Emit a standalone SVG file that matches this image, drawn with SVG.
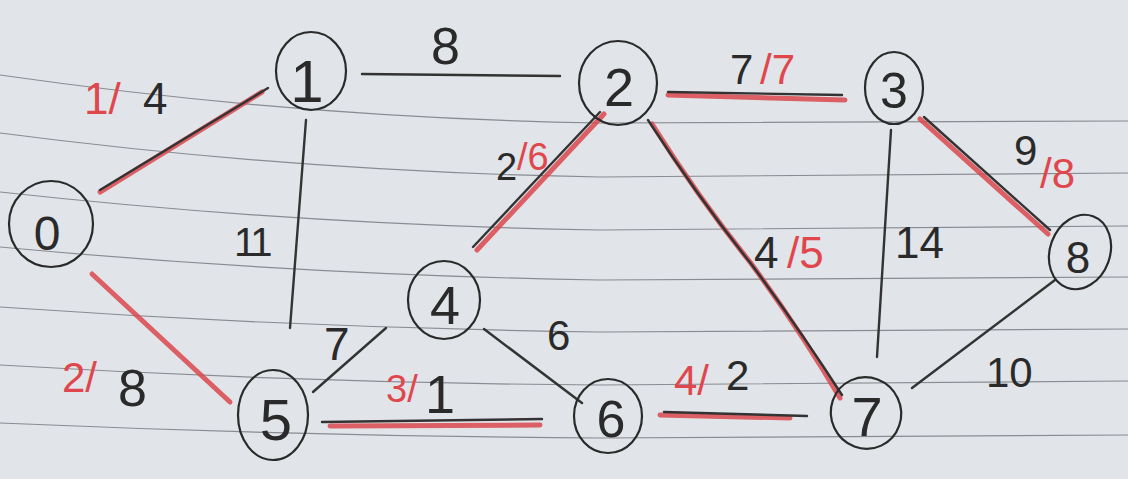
<svg xmlns="http://www.w3.org/2000/svg" width="1128" height="479" viewBox="0 0 1128 479">
<style>
.rule{fill:none;stroke:#6b6f76;stroke-width:1.2;opacity:.75}
.node{fill:none;stroke:#2a2a2a;stroke-width:2.2}
.nl{font-family:"Liberation Sans",Arial,sans-serif;fill:#2a2a2a;text-anchor:middle}
.blk{fill:none;stroke:#333;stroke-width:2.4;stroke-linecap:round}
.red{fill:none;stroke:#d9484c;stroke-width:5;stroke-linecap:round;opacity:.85}
.el{font-family:"Liberation Sans",Arial,sans-serif;fill:#2a2a2a}
.r{fill:#e0474d}
</style>
<rect x="0" y="0" width="1128" height="479" fill="#e1e4e8"/>
<g id="paper">
<path class="rule" d="M0,75 Q300,118 600,123 L1128,121"/>
<path class="rule" d="M0,133 Q300,172 600,177 L1128,173"/>
<path class="rule" d="M0,192 Q300,225 600,230 L1128,226"/>
<path class="rule" d="M0,247 Q300,275 600,280 L1128,277"/>
<path class="rule" d="M0,307 Q300,328 600,332 L1128,329"/>
<path class="rule" d="M0,365 Q300,383 600,385 L1128,381"/>
<path class="rule" d="M0,423 Q300,436 600,438 L1128,435"/>
</g>
<g id="connectors">
<line class="red" x1="100" y1="192" x2="262" y2="92"/>
<line class="blk" x1="100" y1="190" x2="268" y2="88"/>
<line class="blk" x1="362" y1="74" x2="560" y2="76"/>
<line class="red" x1="668" y1="95" x2="845" y2="100"/>
<line class="blk" x1="668" y1="92" x2="842" y2="95"/>
<line class="red" x1="604" y1="114" x2="477" y2="250"/>
<line class="blk" x1="600" y1="112" x2="473" y2="247"/>
<path class="red" d="M652,124 Q700,200 750,262 Q800,330 840,398"/>
<path class="blk" d="M648,120 Q700,200 752,265 Q800,330 842,395"/>
<line class="red" x1="920" y1="119" x2="1048" y2="234"/>
<line class="blk" x1="924" y1="117" x2="1050" y2="230"/>
<line class="blk" x1="306" y1="120" x2="290" y2="328"/>
<line class="blk" x1="891" y1="130" x2="877" y2="357"/>
<line class="blk" x1="1055" y1="280" x2="912" y2="388"/>
<line class="red" x1="92" y1="274" x2="230" y2="402"/>
<line class="blk" x1="313" y1="392" x2="386" y2="328"/>
<line class="blk" x1="484" y1="329" x2="582" y2="403"/>
<line class="red" x1="330" y1="426" x2="540" y2="425"/>
<line class="blk" x1="322" y1="422" x2="542" y2="419"/>
<line class="red" x1="660" y1="415" x2="790" y2="418"/>
<line class="blk" x1="664" y1="412" x2="807" y2="416"/>
</g>
<g id="edge-labels">
<text class="el" font-size="44" y="114"><tspan class="r" x="84">1/</tspan><tspan x="143">4</tspan></text>
<text class="el" font-size="52" x="431" y="64">8</text>
<text class="el" font-size="42" y="84"><tspan x="730">7</tspan><tspan class="r" x="760">/7</tspan></text>
<text class="el" font-size="42"><tspan x="1014" y="165">9</tspan><tspan class="r" x="1040" y="188">/8</tspan></text>
<text class="el" font-size="38"><tspan x="496" y="180">2</tspan><tspan class="r" x="517" y="170">/6</tspan></text>
<text class="el" font-size="44" y="268"><tspan x="754">4</tspan><tspan class="r" x="787">/5</tspan></text>
<text class="el" font-size="40" x="234" y="256" letter-spacing="-3">11</text>
<text class="el" font-size="44" x="895" y="258">14</text>
<text class="el" font-size="46" x="324" y="360">7</text>
<text class="el" font-size="42" x="547" y="350">6</text>
<text class="el" font-size="42"><tspan class="r" x="62" y="392">2/</tspan><tspan font-size="52" x="118" y="406">8</tspan></text>
<text class="el" font-size="38"><tspan class="r" x="386" y="402">3/</tspan><tspan font-size="54" x="425" y="413">1</tspan></text>
<text class="el" font-size="42"><tspan class="r" x="674" y="395">4/</tspan><tspan x="726" y="390">2</tspan></text>
<text class="el" font-size="42" x="986" y="387">10</text>
</g>
<g id="node-0"><ellipse class="node" cx="51" cy="224" rx="42" ry="43"/><text class="nl" font-size="48" x="47" y="250">0</text></g>
<g id="node-1"><ellipse class="node" cx="311" cy="71" rx="35" ry="39"/><text class="nl" font-size="60" x="307" y="102">1</text></g>
<g id="node-2"><ellipse class="node" cx="618" cy="83" rx="39" ry="42"/><text class="nl" font-size="54" x="619" y="106">2</text></g>
<g id="node-3"><ellipse class="node" cx="894" cy="88" rx="29" ry="36"/><text class="nl" font-size="50" x="894" y="108">3</text></g>
<g id="node-4"><ellipse class="node" cx="444" cy="300" rx="36" ry="39"/><text class="nl" font-size="54" x="445" y="324">4</text></g>
<g id="node-5"><ellipse class="node" cx="273" cy="415" rx="35" ry="45"/><text class="nl" font-size="58" x="276" y="440">5</text></g>
<g id="node-6"><ellipse class="node" cx="608" cy="416" rx="34" ry="37"/><text class="nl" font-size="52" x="611" y="437">6</text></g>
<g id="node-7"><ellipse class="node" cx="866" cy="413" rx="35" ry="36" transform="rotate(-25 866 413)"/><text class="nl" font-size="56" x="867" y="436">7</text></g>
<g id="node-8"><ellipse class="node" cx="1080" cy="252" rx="30" ry="38" transform="rotate(20 1080 252)"/><text class="nl" font-size="44" x="1078" y="273">8</text></g>
</svg>
